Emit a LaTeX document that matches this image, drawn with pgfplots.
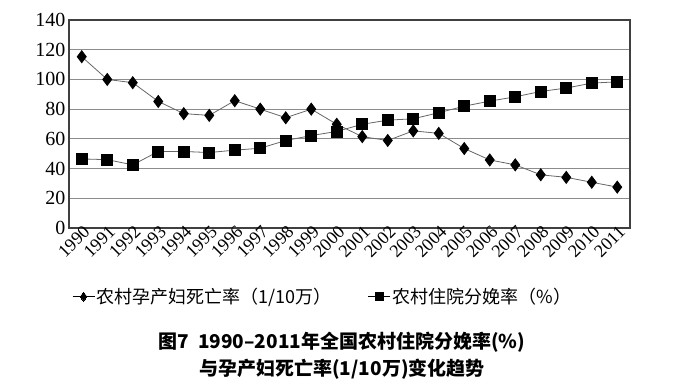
\documentclass[border=0pt]{standalone}
\usepackage{fontspec}
\setmainfont{Liberation Serif}
\newfontfamily\cjk{Noto Sans CJK SC}
\usepackage{pgfplots}
\pgfplotsset{compat=1.18}
\begin{document}
\begin{tikzpicture}[x=1pt,y=1pt]
\path[use as bounding box] (0,0) rectangle (685,384);
\begin{axis}[
  at={(69pt,156pt)}, anchor=south west,
  scale only axis, width=561pt, height=208pt,
  xmin=-0.5, xmax=21.5, ymin=0, ymax=140,
  ytick={0,20,...,140},
  xtick={0,...,21},
  xticklabels={1990,1991,1992,1993,1994,1995,1996,1997,1998,1999,2000,2001,2002,2003,2004,2005,2006,2007,2008,2009,2010,2011},
  x tick label style={rotate=45, anchor=east, font=\fontsize{18}{18}\selectfont, inner sep=0pt, xshift=3pt, yshift=-4pt},
  y tick label style={font=\fontsize{20}{20}\selectfont},
  ymajorgrids, grid style={black!45, line width=1pt},
  axis line style={black!75, line width=1.2pt},
  major tick length=0pt,
  /pgf/number format/assume math mode=true,
  legend columns=2,
  legend style={at={(0,-0.33)}, anchor=west, draw=none, fill=none,
    font=\cjk\fontsize{18}{18}\selectfont,
    /tikz/every even column/.append style={column sep=34pt}},
  legend cell align=left,
  legend image code/.code={
    \draw[black, line width=0.7pt] (0pt,0pt) -- (22pt,0pt);
    \draw[#1, draw=black, fill=black, line width=0pt] plot coordinates {(11pt,0pt)};
  },
]
\addplot[black!60, line width=0.8pt, mark=diamond*, mark size=6pt,
  mark options={fill=black, draw=black, solid},
  legend image post style={mark size=4.5pt}] coordinates {
(0,115.3) (1,100) (2,97.8) (3,85.2) (4,77) (5,75.8) (6,85.7) (7,80) (8,74.2) (9,80)
(10,69.8) (11,61.5) (12,58.9) (13,65.4) (14,63.7) (15,53.5) (16,45.8) (17,42.5)
(18,35.8) (19,34.1) (20,30.8) (21,27.5)};
\addlegendentry{农村孕产妇死亡率（1/10万）}
\addplot[black!60, line width=0.8pt, mark=square*, mark size=5.5pt,
  mark options={fill=black, draw=black, solid},
  legend image post style={mark size=4pt}] coordinates {
(0,46.5) (1,46) (2,42.5) (3,51.5) (4,51.5) (5,50.8) (6,52.4) (7,53.7) (8,58.9) (9,62.2)
(10,65) (11,69.8) (12,72.6) (13,73.5) (14,77.6) (15,82) (16,85.4) (17,88.3)
(18,91.9) (19,94.2) (20,97.5) (21,98.4)};
\addlegendentry{农村住院分娩率（\%）}
\end{axis}
\node[font=\cjk\bfseries\fontsize{19}{19}\selectfont] at (342,42) {图7\ \ 1990–2011年全国农村住院分娩率(\%)};
\node[font=\cjk\bfseries\fontsize{19}{19}\selectfont] at (342,15) {与孕产妇死亡率(1/10万)变化趋势};
\end{tikzpicture}
\end{document}
